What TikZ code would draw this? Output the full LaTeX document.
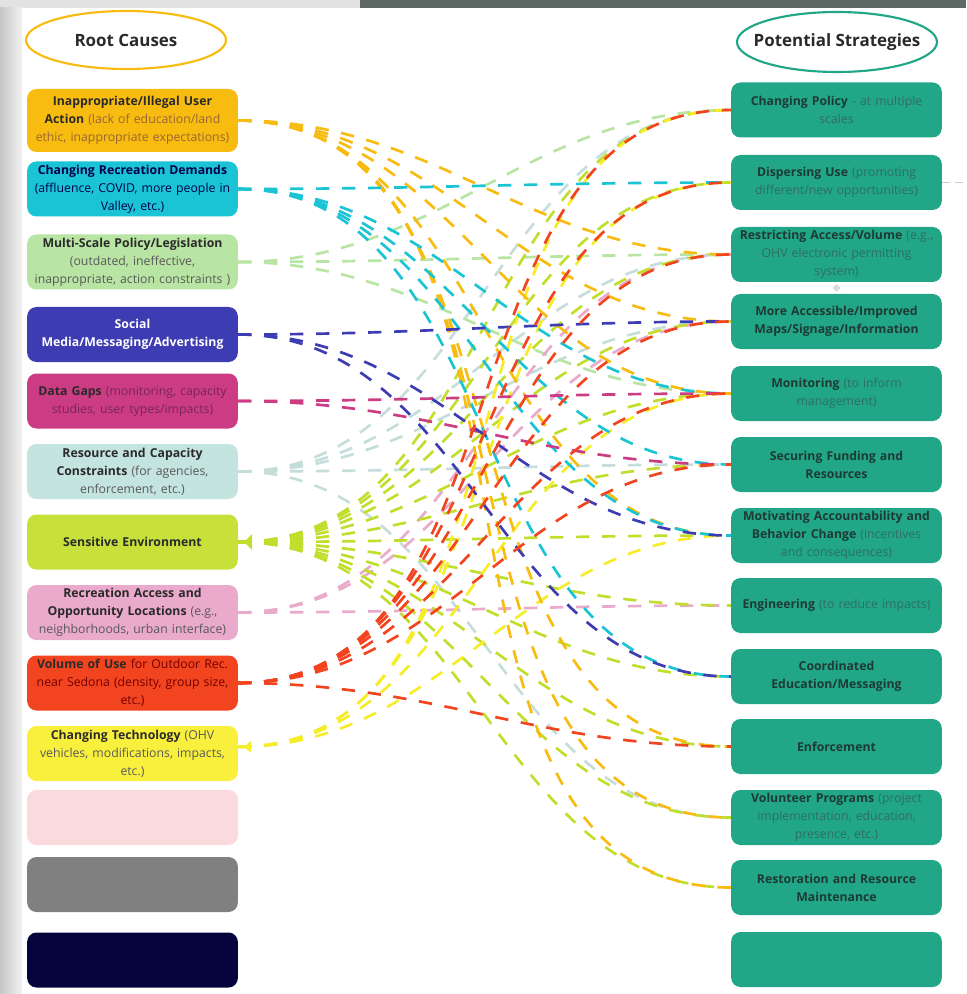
\documentclass[tikz,border=0pt]{standalone}
\usepackage{fontspec}
\setmainfont{Open Sans}
\usetikzlibrary{shapes.geometric}
\pgfdeclarelayer{paper}
\pgfdeclarelayer{links}
\pgfsetlayers{paper,links,main}
\definecolor{frameGray}{HTML}{E2E2E2}
\definecolor{topBar}{HTML}{5E6864}
\definecolor{inkDark}{HTML}{2A2A2A}
\definecolor{cOrange}{HTML}{F8BC10}
\definecolor{cCyan}{HTML}{1BC4D4}
\definecolor{cLeaf}{HTML}{B8E5A3}
\definecolor{cBlue}{HTML}{3D3CB2}
\definecolor{cMagenta}{HTML}{CB3C84}
\definecolor{cPale}{HTML}{C3E4DF}
\definecolor{cLime}{HTML}{C8E13A}
\definecolor{cPink}{HTML}{E9AACB}
\definecolor{cRed}{HTML}{F2441F}
\definecolor{cYellow}{HTML}{F9F03E}
\definecolor{cBlush}{HTML}{FADADC}
\definecolor{cGray}{HTML}{808080}
\definecolor{cNavy}{HTML}{06043C}
\definecolor{stratFill}{HTML}{21A688}
\definecolor{stratLite}{HTML}{2E6F61}
\definecolor{stratInk}{HTML}{1E3A34}
\definecolor{gapsLite}{HTML}{7A2456}
\definecolor{lnPale}{HTML}{C6DEDB}
\definecolor{lnLime}{HTML}{C2DE2C}
\definecolor{lnYellow}{HTML}{F6EC28}
\begin{document}
\begin{tikzpicture}[x=0.75pt, y=-0.75pt,
  box/.style={rounded corners=7pt, minimum width=156.75pt, minimum height=41.25pt,
    text width=156pt, inner sep=1pt, align=center,
    font=\fontsize{9.2}{13.5}\selectfont, text=inkDark},
  strategy/.style={box, fill=stratFill, text=stratInk},
  title/.style={font=\fontsize{12.7}{14}\selectfont\bfseries, text=inkDark},
  link/.style={dash pattern=on 10pt off 9.5pt, line width=2pt, out=0, in=180},
  stub/.style={line width=2pt}]
  \useasboundingbox (0,0) rectangle (966,994);
  \begin{pgfonlayer}{paper}
  \fill[frameGray] (0,0) rectangle (966,994);
  \shade[left color=gray!45, right color=gray!10] (0,8) rectangle (22,994);
  \fill[topBar] (360,0) rectangle (966,8);
  \fill[white] (22,8) rectangle (966,994);
  \end{pgfonlayer}

  \node[title] (rootTitle) at (126,40) {Root Causes};
  \node[title] (stratTitle) at (837,42) {Potential Strategies};
  \draw[cOrange, line width=1.6pt] (rootTitle) ellipse [x radius=100, y radius=29];
  \draw[stratFill, line width=1.6pt] (stratTitle) ellipse [x radius=100, y radius=30];

  \node[box, fill=cOrange, minimum height=47.25pt] (userAction) at (132.5,120.5)
    {\textbf{Inappropriate/Illegal User}\\\textbf{Action} \color{brown!80!black}(lack of education/land\\ethic, inappropriate expectations)};
  \node[box, fill=cCyan, text=blue!30!black] (demands) at (132.5,189)
    {\textbf{Changing Recreation Demands}\\(affluence, COVID, more people in\\Valley, etc.)};
  \node[box, fill=cLeaf] (legislation) at (132.5,262)
    {\textbf{Multi-Scale Policy/Legislation}\\\color{black!65}(outdated, ineffective,\\inappropriate, action constraints )};
  \node[box, fill=cBlue, text=white] (socialMedia) at (132.5,334.5)
    {\textbf{Social}\\\textbf{Media/Messaging/Advertising}};
  \node[box, fill=cMagenta] (dataGaps) at (132.5,401)
    {\textbf{Data Gaps} \color{gapsLite}(monitoring, capacity\\studies, user types/impacts)};
  \node[box, fill=cPale] (capacity) at (132.5,471.5)
    {\textbf{Resource and Capacity}\\\textbf{Constraints} \color{black!65}(for agencies,\\enforcement, etc.)};
  \node[box, fill=cLime] (environment) at (132.5,542) {\textbf{Sensitive Environment}};
  \node[box, fill=cPink] (access) at (132.5,612.5)
    {\textbf{Recreation Access and}\\\textbf{Opportunity Locations} \color{black!65}(e.g.,\\neighborhoods, urban interface)};
  \node[box, fill=cRed] (volume) at (132.5,683)
    {\textbf{Volume of Use} \color{red!45!black}for Outdoor Rec.\\near Sedona (density, group size,\\etc.)};
  \node[box, fill=cYellow] (technology) at (132.5,753.5)
    {\textbf{Changing Technology} \color{black!65}(OHV\\vehicles, modifications, impacts,\\etc.)};
  \node[box, fill=cBlush] (blankA) at (132.5,817.5) {};
  \node[box, fill=cGray] (blankB) at (132.5,884.5) {};
  \node[box, fill=cNavy] (blankC) at (132.5,960) {};
  \fill[lnLime] (environment.east) -- ++(6,0) -- ++(8,-8) -- ++(0,16) -- ++(-8,-8) -- cycle;
  \fill[lnYellow] ([yshift=5pt]technology.east) -- ++(6,0) -- ++(7,-6) -- ++(0,12) -- ++(-7,-6) -- cycle;

  \node[strategy] (policy) at (836.5,110)
    {\textbf{Changing Policy} \color{stratLite}- at multiple\\scales};
  \node[strategy] (dispersing) at (836.5,182.5)
    {\textbf{Dispersing Use} \color{stratLite}(promoting\\different/new opportunities)};
  \node[strategy] (restricting) at (836.5,254.5)
    {\textbf{Restricting Access/Volume} \color{stratLite}(e.g.,\\OHV electronic permitting\\system)};
  \node[strategy] (maps) at (836.5,321.5)
    {\textbf{More Accessible/Improved}\\\textbf{Maps/Signage/Information}};
  \node[strategy] (monitoring) at (836.5,393.5)
    {\textbf{Monitoring} \color{stratLite}(to inform\\management)};
  \node[strategy] (funding) at (836.5,464.5)
    {\textbf{Securing Funding and}\\\textbf{Resources}};
  \node[strategy] (accountability) at (836.5,535.5)
    {\textbf{Motivating Accountability and}\\\textbf{Behavior Change} \color{stratLite} (incentives\\and consequences)};
  \node[strategy] (engineering) at (836.5,605.5)
    {\textbf{Engineering} \color{stratLite}(to reduce impacts)};
  \node[strategy] (education) at (836.5,676.5)
    {\textbf{Coordinated}\\\textbf{Education/Messaging}};
  \node[strategy] (enforcement) at (836.5,746.5) {\textbf{Enforcement}};
  \node[strategy] (volunteer) at (836.5,817.5)
    {\textbf{Volunteer Programs} \color{stratLite}(project\\implementation, education,\\presence, etc.)};
  \node[strategy] (restoration) at (836.5,887.5)
    {\textbf{Restoration and Resource}\\\textbf{Maintenance}};
  \node[strategy] (blankStrat) at (836.5,959.5) {};
  \node[diamond, fill=gray!30, inner sep=0pt, minimum size=6pt] (restrictKnob) at (836.5,288) {};

  \begin{pgfonlayer}{links}
  \draw[stub, cPale] (capacity.east) -- ++(12,0);
  \foreach \t in {policy,restricting,maps,funding,volunteer}
    \draw[link, lnPale] (capacity.east) to (\t.west);
  \draw[stub, cLeaf] (legislation.east) -- ++(12,0);
  \foreach \t in {policy,restricting,monitoring}
    \draw[link, cLeaf] (legislation.east) to (\t.west);
  \draw[stub, cPink] (access.east) -- ++(12,0);
  \foreach \t in {restricting,maps,engineering}
    \draw[link, cPink] (access.east) to (\t.west);
  \foreach \t in {policy,dispersing,restricting,maps,monitoring,funding,accountability,engineering,education,enforcement,volunteer,restoration}
    \draw[link, lnLime] (environment.east) to (\t.west);
  \foreach \t in {policy,dispersing,monitoring,accountability}
    \draw[link, lnYellow] ([yshift=5pt]technology.east) to (\t.west);
  \draw[stub, cOrange] (userAction.east) -- ++(12,0);
  \foreach \t in {restricting,maps,monitoring,accountability,enforcement,volunteer,restoration}
    \draw[link, cOrange] (userAction.east) to (\t.west);
  \draw[stub, cCyan] (demands.east) -- ++(12,0);
  \foreach \t in {dispersing,monitoring,funding,accountability,education}
    \draw[link, cCyan] (demands.east) to (\t.west);
  \draw[stub, cMagenta] (dataGaps.east) -- ++(12,0);
  \foreach \t in {monitoring,funding}
    \draw[link, cMagenta] (dataGaps.east) to (\t.west);
  \draw[stub, cBlue] (socialMedia.east) -- ++(12,0);
  \foreach \t in {maps,accountability,education}
    \draw[link, cBlue] (socialMedia.east) to (\t.west);
  \draw[stub, cRed] (volume.east) -- ++(12,0);
  \foreach \t in {policy,dispersing,restricting,maps,monitoring,funding,enforcement}
    \draw[link, cRed] (volume.east) to (\t.west);
  \draw[gray!40, line width=1pt, dash pattern=on 6pt off 4pt] (dispersing.east) -- ++(25,0);
  \end{pgfonlayer}
\end{tikzpicture}
\end{document}
